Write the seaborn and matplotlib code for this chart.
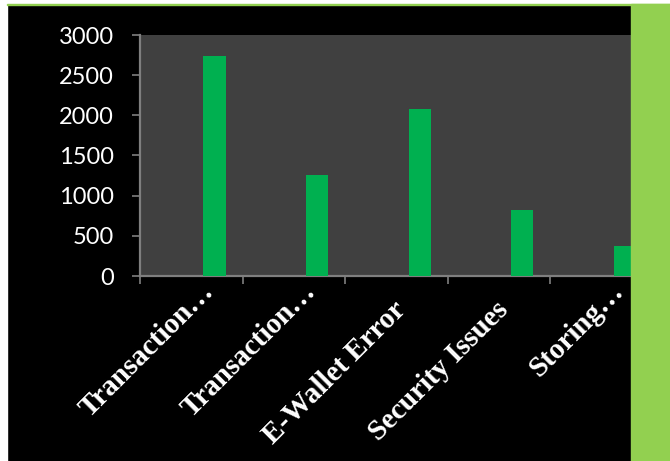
import matplotlib
matplotlib.use("Agg")
import matplotlib.pyplot as plt
import matplotlib.transforms as mtransforms
from matplotlib.patches import Rectangle
import numpy as np
import pandas as pd
import seaborn as sns

categories = ["Transaction\u2026", "Transaction\u2026", "E-Wallet Error", "Security Issues", "Storing\u2026"]
values = [2740, 1260, 2080, 820, 375]
y_ticks = [0, 500, 1000, 1500, 2000, 2500, 3000]

df = pd.DataFrame({"category": [f"c{i}" for i in range(len(categories))], "count": values})

sns.set_style("ticks")
W, H = 670, 461
fig = plt.figure(figsize=(W / 100, H / 100), dpi=100, facecolor="black")
ax = fig.add_axes([140 / W, (H - 276) / H, (653 - 140) / W, (276 - 35) / H])

sns.barplot(data=df, x="category", y="count", color="#00B050", saturation=1,
            width=0.218, ax=ax, zorder=3, edgecolor="none", linewidth=0)

ax.set_facecolor("#404040")
ax.set_ylim(0, 3000)
ax.set_xlim(-0.726, len(categories) - 0.726)
ax.set_xlabel("")
ax.set_ylabel("")
ax.grid(False)

grey = "#7F7F7F"
for s in ["top", "right"]:
    ax.spines[s].set_visible(False)
for s in ["left", "bottom"]:
    ax.spines[s].set_color(grey)
    ax.spines[s].set_linewidth(1.6)

ax.set_yticks(y_ticks)
ax.set_yticklabels([str(v) for v in y_ticks], fontfamily="Lato", fontsize=17, color="white")
ax.tick_params(axis="y", direction="out", length=6, width=1.2, color=grey, pad=13)

ax.set_xticks(range(len(categories)))
ax.set_xticklabels(categories, rotation=45, ha="right", va="baseline",
                   rotation_mode="anchor", fontfamily="Liberation Serif",
                   fontweight="bold", fontsize=21, color="white")
ax.tick_params(axis="x", which="major", length=0, pad=12)
ax.set_xticks(np.arange(len(categories) + 1) - 0.726, minor=True)
ax.tick_params(axis="x", which="minor", direction="out", length=6, width=1.2, color=grey)

# full-length labels sit lower/left than the truncated ones
for lab in ax.get_xticklabels():
    if not lab.get_text().endswith("\u2026"):
        off = mtransforms.ScaledTranslation(-9 / 72, -13 / 72, fig.dpi_scale_trans)
        lab.set_transform(lab.get_transform() + off)

# frame decorations
fig.add_artist(Rectangle((0, 0), 7 / W, 1, transform=fig.transFigure, color="white", zorder=20))
fig.add_artist(Rectangle((0, (H - 4) / H), 1, 4 / H, transform=fig.transFigure, color="white", zorder=20))
fig.add_artist(Rectangle((7 / W, (H - 5) / H), 1, 1.2 / H, transform=fig.transFigure, color="#92D050", zorder=21))
fig.add_artist(Rectangle((631 / W, 0), (W - 631) / W, (H - 4) / H, transform=fig.transFigure,
                         color="#92D050", zorder=20))

fig.savefig("out.png", dpi=100, facecolor="black")
